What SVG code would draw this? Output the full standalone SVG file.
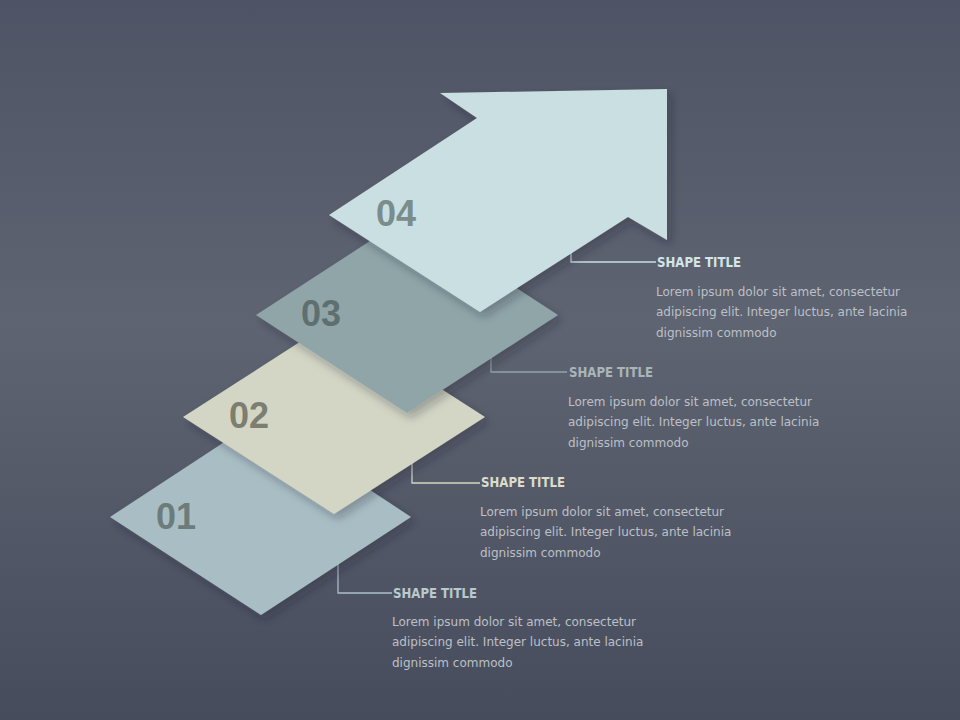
<svg xmlns="http://www.w3.org/2000/svg" width="960" height="720" viewBox="0 0 960 720">
<defs>
<linearGradient id="bg" x1="0" y1="0" x2="0" y2="1">
<stop offset="0" stop-color="#4e5465"/>
<stop offset="0.45" stop-color="#5f6472"/>
<stop offset="1" stop-color="#474c5d"/>
</linearGradient>
<filter id="sh" x="-20%" y="-20%" width="140%" height="140%">
<feDropShadow dx="4" dy="5" stdDeviation="5" flood-color="#1e2230" flood-opacity="0.3"/>
</filter>
</defs>
<style>
.num{font-family:"Liberation Sans",Arial,sans-serif;font-weight:bold;font-size:36px}
.ttl{font-family:"DejaVu Sans",sans-serif;font-weight:bold;font-size:13.5px}
.body{font-family:"DejaVu Sans",sans-serif;font-size:12px;fill:#bcc0c6}
.con{fill:none;stroke-width:1.3}
</style>
<rect width="960" height="720" fill="url(#bg)"/>
<g id="connectors">
<polyline class="con" stroke="#a9bec4" points="338,560 338,593 392,593"/>
<polyline class="con" stroke="#d3d6c4" points="412,458 412,483 480,483"/>
<polyline class="con" stroke="#8fa5a8" points="491,355 491,372 567,372"/>
<polyline class="con" stroke="#c9dfe1" points="571,245 571,262 656,262"/>
</g>
<g id="step01">
<polygon points="110,517 261,418 411,517 261,615" fill="#a9bec4" filter="url(#sh)"/>
<text class="num" x="156" y="529" fill="#6d7b7b">01</text>
</g>
<g id="step02">
<polygon points="183,417 334,320 485,417 334,514" fill="#d3d6c4" filter="url(#sh)"/>
<text class="num" x="229" y="428" fill="#7b7e70">02</text>
</g>
<g id="step03">
<polygon points="256,315 407,217 558,315 407,413" fill="#8fa5a8" filter="url(#sh)"/>
<text class="num" x="301" y="326" fill="#5f6f70">03</text>
</g>
<g id="step04">
<polygon points="329,215 477,118 440,93 667,89 667,240 628,217 480,312" fill="#c9dfe1" filter="url(#sh)"/>
<text class="num" x="376" y="226" fill="#7b8c8c">04</text>
</g>
<g id="text04">
<text class="ttl" x="657" y="267" fill="#d3e5e6" textLength="84" lengthAdjust="spacingAndGlyphs">SHAPE TITLE</text>
<text class="body" x="656" y="296">Lorem ipsum dolor sit amet, consectetur</text>
<text class="body" x="656" y="316">adipiscing elit. Integer luctus, ante lacinia</text>
<text class="body" x="656" y="337">dignissim commodo</text>
</g>
<g id="text03">
<text class="ttl" x="569" y="377" fill="#a9b6b8" textLength="84" lengthAdjust="spacingAndGlyphs">SHAPE TITLE</text>
<text class="body" x="568" y="406">Lorem ipsum dolor sit amet, consectetur</text>
<text class="body" x="568" y="426">adipiscing elit. Integer luctus, ante lacinia</text>
<text class="body" x="568" y="447">dignissim commodo</text>
</g>
<g id="text02">
<text class="ttl" x="481" y="487" fill="#dcdccb" textLength="84" lengthAdjust="spacingAndGlyphs">SHAPE TITLE</text>
<text class="body" x="480" y="516">Lorem ipsum dolor sit amet, consectetur</text>
<text class="body" x="480" y="536">adipiscing elit. Integer luctus, ante lacinia</text>
<text class="body" x="480" y="557">dignissim commodo</text>
</g>
<g id="text01">
<text class="ttl" x="393" y="598" fill="#b9c9cd" textLength="84" lengthAdjust="spacingAndGlyphs">SHAPE TITLE</text>
<text class="body" x="392" y="626">Lorem ipsum dolor sit amet, consectetur</text>
<text class="body" x="392" y="646">adipiscing elit. Integer luctus, ante lacinia</text>
<text class="body" x="392" y="667">dignissim commodo</text>
</g>
</svg>
